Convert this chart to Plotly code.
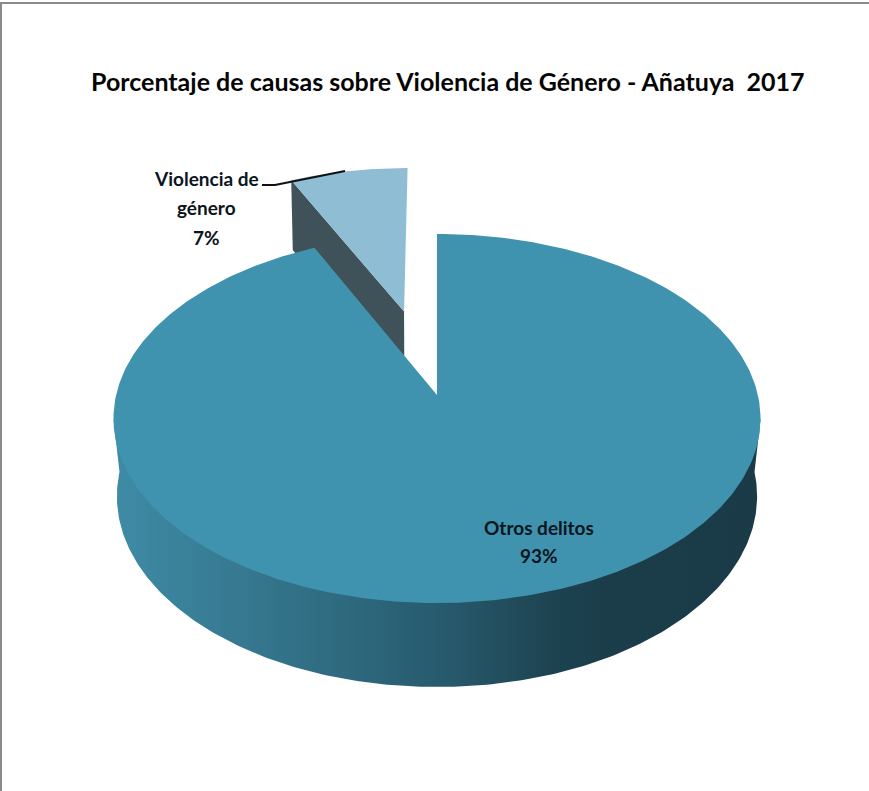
import numpy as np
import plotly.graph_objects as go

# Data
title = "Porcentaje de causas sobre Violencia de Género - Añatuya  2017"
categories = ["Violencia de género", "Otros delitos"]
values = [7, 93]
label_lines = [["Violencia de", "género"], ["Otros delitos"]]

# Projection of the tilted disc on to the page (pixel-like axes)
CX, CY = 437.0, 395.0
R, A, K = 320.9, 181.5, 0.1274
DEPTH_CY, DEPTH_A, DEPTH_R = 472.0, 187.6, 317.5
EXPLODE = 0.5


def project(u, v, base=False):
    w = 1 + K * v
    r, a, cy = (DEPTH_R, DEPTH_A, DEPTH_CY) if base else (R, A, CY)
    return CX + r * u / w, cy - a * v / w


def arc(t0, t1, n=240):
    t = np.linspace(t0, t1, n)
    return -np.sin(t), np.cos(t)


gap = 2 * np.pi * values[0] / sum(values)
mid = gap / 2
ou, ov = -np.sin(mid) * EXPLODE, np.cos(mid) * EXPLODE

fig = go.Figure()


def poly(x, y, color=None, **kw):
    fig.add_trace(go.Scatter(x=list(x), y=list(y), mode="lines", fill="toself",
                             fillcolor=color, line=dict(width=0),
                             hoverinfo="skip", showlegend=False, **kw))


# Exploded slice: dark cut side
p = [(ou, ov), (ou - np.sin(gap), ov + np.cos(gap))]
tx, ty = zip(*[project(*q) for q in p])
bx, by = zip(*[project(*q, base=True) for q in p])
poly([tx[0], tx[1], bx[1], bx[0]], [ty[0], ty[1], by[1], by[0]], "#3F5159")

# Exploded slice: top face
u, v = arc(0, gap, 80)
sx, sy = project(u + ou, v + ov)
poly(np.r_[project(ou, ov)[0], sx], np.r_[project(ou, ov)[1], sy], "#8FBDD3")

# Main slice: outer wall with horizontal shading
u, v = arc(np.pi / 2, 3 * np.pi / 2, 240)
wx, wy = project(u, v, base=True)
ax_, ay_ = project(u, v)
left, right = np.argmin(ax_), np.argmax(ax_)
fig.add_trace(go.Scatter(
    x=np.r_[ax_[left], wx, ax_[right]].tolist(),
    y=np.r_[ay_[left], wy, ay_[right]].tolist(),
    mode="lines", fill="toself", line=dict(width=0), hoverinfo="skip", showlegend=False,
    fillgradient=dict(type="horizontal", colorscale=[
        [0.0, "#3F8BA6"], [0.3, "#316F85"], [0.52, "#27596C"],
        [0.68, "#1D4350"], [0.76, "#1B3D4A"], [1.0, "#1A3A47"]]),
))

# Main slice: top face
u, v = arc(gap, 2 * np.pi, 480)
mx, my = project(u, v)
poly(np.r_[CX, mx], np.r_[CY, my], "#4093AE")

# Text labels
label_font = dict(family="Lato", size=19, color="#0A1520")
text_rows = [
    (206, 178, label_lines[0][0]),
    (206, 207, label_lines[0][1]),
    (206, 237, f"{values[0]}%"),
    (539, 527, label_lines[1][0]),
    (539, 555, f"{values[1]}%"),
]
annotations = [dict(x=x, y=y, text=f"<b>{s}</b>", showarrow=False, xanchor="center",
                    yanchor="middle", font=label_font) for x, y, s in text_rows]
annotations.append(dict(x=447.5, y=81, text=f"<b>{title}</b>", showarrow=False,
                        xanchor="center", yanchor="middle",
                        font=dict(family="Lato", size=25, color="#050505")))

shapes = [
    dict(type="path", path="M 262 185 L 275 185 L 345 171",
         line=dict(color="#111111", width=2), layer="above"),
    dict(type="line", x0=0, x1=869, y0=3, y1=3, line=dict(color="#8A8A8A", width=2)),
    dict(type="line", x0=1, x1=1, y0=3, y1=791, line=dict(color="#8A8A8A", width=2)),
]

fig.update_layout(
    width=869, height=791, margin=dict(l=0, r=0, t=0, b=0),
    paper_bgcolor="white", plot_bgcolor="white", showlegend=False,
    xaxis=dict(range=[0, 869], visible=False, fixedrange=True),
    yaxis=dict(range=[791, 0], visible=False, fixedrange=True),
    annotations=annotations, shapes=shapes,
)
fig.write_html("out.html", config=dict(displayModeBar=False),
               post_script="document.body.style.margin='0';document.documentElement.style.overflow='hidden';")
